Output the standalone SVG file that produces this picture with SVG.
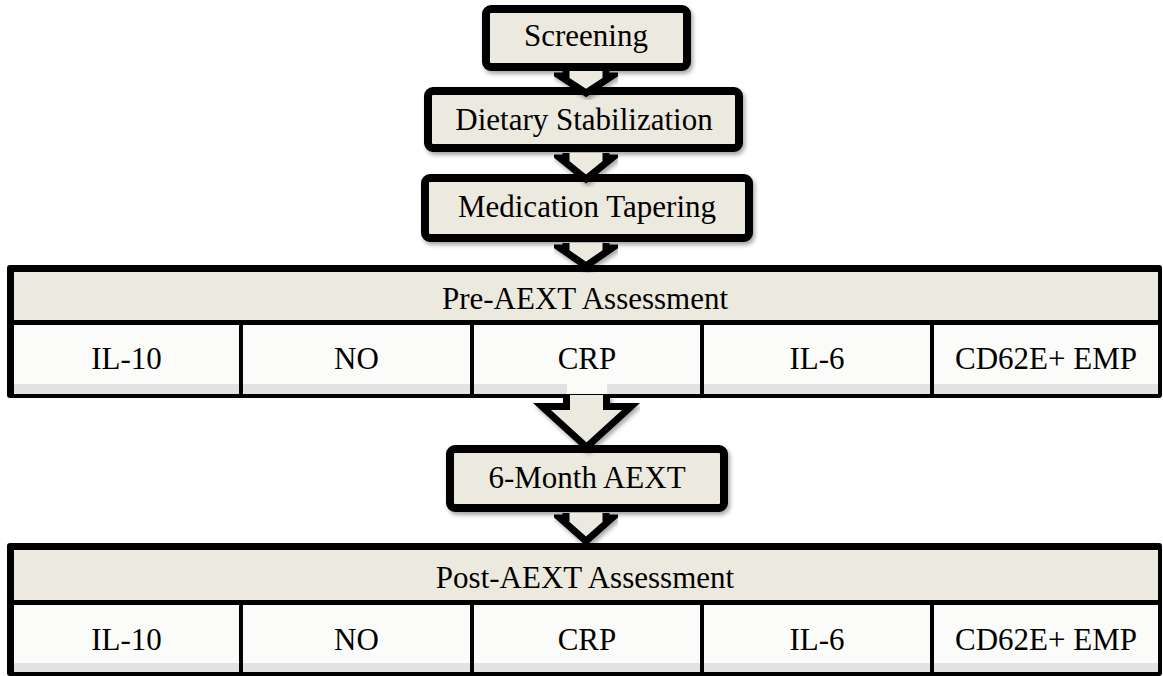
<svg xmlns="http://www.w3.org/2000/svg" width="1163" height="676" viewBox="0 0 1163 676">
  <defs>
    <filter id="sh" x="-10%" y="-20%" width="120%" height="150%">
      <feDropShadow dx="2" dy="3" stdDeviation="2" flood-color="#000" flood-opacity="0.35"/>
    </filter>
    <style>
      .box { fill: #ece9df; stroke: #000; stroke-width: 8; }
      .hdr { fill: #ece9df; }
      .cell { fill: #fbfbf9; }
      .strip { fill: #e2e2e2; }
      .blk { fill: #000; }
      .arr { fill: #ece9df; stroke: #000; stroke-width: 7; stroke-linejoin: miter; }
      text { font-family: "Liberation Serif", "Times New Roman", serif; font-size: 31px; fill: #000; text-anchor: middle; }
    </style>
  </defs>
  <rect width="1163" height="676" fill="#fff"/>

  <g id="pre-assessment">
    <rect class="blk" x="7" y="265" width="1155" height="133" rx="3"/>
    <rect class="hdr" x="14" y="272" width="1144" height="48"/>
    <rect class="cell" x="14" y="325" width="225" height="69"/>
    <rect class="cell" x="243" y="325" width="227" height="69"/>
    <rect class="cell" x="474" y="325" width="226" height="69"/>
    <rect class="cell" x="704" y="325" width="226" height="69"/>
    <rect class="cell" x="934" y="325" width="224" height="69"/>
    <rect class="strip" x="14" y="384" width="225" height="10"/>
    <rect class="strip" x="243" y="384" width="227" height="10"/>
    <rect class="strip" x="474" y="384" width="93" height="10" rx="2"/>
    <rect class="strip" x="607" y="384" width="93" height="10" rx="2"/>
    <rect class="strip" x="704" y="384" width="226" height="10"/>
    <rect class="strip" x="934" y="384" width="224" height="10"/>
    <text x="585" y="309">Pre-AEXT Assessment</text>
    <text x="126.5" y="369">IL-10</text>
    <text x="356.5" y="369">NO</text>
    <text x="587" y="369">CRP</text>
    <text x="817" y="369">IL-6</text>
    <text x="1046" y="369">CD62E+ EMP</text>
  </g>

  <g id="post-assessment">
    <rect class="blk" x="7" y="543" width="1155" height="133" rx="3"/>
    <rect class="hdr" x="14" y="550" width="1144" height="50"/>
    <rect class="cell" x="14" y="605" width="225" height="67"/>
    <rect class="cell" x="243" y="605" width="227" height="67"/>
    <rect class="cell" x="474" y="605" width="226" height="67"/>
    <rect class="cell" x="704" y="605" width="226" height="67"/>
    <rect class="cell" x="934" y="605" width="224" height="67"/>
    <rect class="strip" x="14" y="663" width="225" height="9"/>
    <rect class="strip" x="243" y="663" width="227" height="9"/>
    <rect class="strip" x="474" y="663" width="226" height="9"/>
    <rect class="strip" x="704" y="663" width="226" height="9"/>
    <rect class="strip" x="934" y="663" width="224" height="9"/>
    <text x="585" y="588">Post-AEXT Assessment</text>
    <text x="126.5" y="650">IL-10</text>
    <text x="356.5" y="650">NO</text>
    <text x="587" y="650">CRP</text>
    <text x="817" y="650">IL-6</text>
    <text x="1046" y="650">CD62E+ EMP</text>
  </g>

  <g id="screening">
    <rect class="box" x="486" y="9" width="201" height="58" rx="5" filter="url(#sh)"/>
    <text x="586" y="46">Screening</text>
  </g>

  <g id="dietary-stabilization">
    <rect class="box" x="428" y="91" width="311" height="57" rx="5" filter="url(#sh)"/>
    <text x="584" y="130">Dietary Stabilization</text>
  </g>

  <g id="medication-tapering">
    <rect class="box" x="425" y="178" width="324" height="60" rx="5" filter="url(#sh)"/>
    <text x="587" y="217">Medication Tapering</text>
  </g>

  <g id="six-month-aext">
    <rect class="box" x="450" y="449" width="274" height="59" rx="5" filter="url(#sh)"/>
    <text x="587" y="488">6-Month AEXT</text>
  </g>

  <g id="connectors">
    <path class="arr" filter="url(#sh)" d="M566,71 L566,76 L560,76 L586,93 L612,76 L606,76 L606,71"/>
    <path class="arr" filter="url(#sh)" d="M566,153 L566,158 L560,158 L586,179 L612,158 L606,158 L606,153"/>
    <path class="arr" filter="url(#sh)" d="M566,243 L566,248 L560,248 L586,266 L612,248 L606,248 L606,243"/>
    <path class="arr" filter="url(#sh)" d="M566.5,395 L566.5,406.5 L542,406.5 L586.5,447 L631,406.5 L606.5,406.5 L606.5,395"/>
    <path class="arr" filter="url(#sh)" d="M566,513 L566,518 L560,518 L586,541 L612,518 L606,518 L606,513"/>
  </g>
</svg>
